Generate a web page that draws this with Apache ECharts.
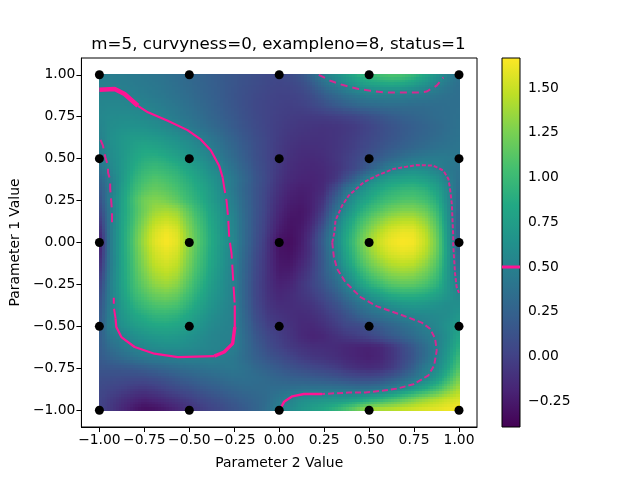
<!DOCTYPE html>
<html><head><meta charset="utf-8">
<script src="https://cdn.jsdelivr.net/npm/echarts@6/dist/echarts.min.js"></script>
<style>html,body{margin:0;padding:0;background:#fff}#c{width:640px;height:480px}</style></head>
<body><div id="c"></div>
<script>
const titleText = "m=5, curvyness=0, exampleno=8, status=1";
const xName = "Parameter 2 Value";
const yName = "Parameter 1 Value";
const axisTicks = [-1,-0.75,-0.5,-0.25,0,0.25,0.5,0.75,1];
const barTicks = [-0.25,0,0.25,0.5,0.75,1,1.25,1.5];
const barRange = [-0.394,1.668];
const contourLevel = 0.5;
const sampleXs = [-1,-0.5,0,0.5,1];
const sampleYs = [-1,-0.5,0,0.5,1];
const viridis = ["#440154","#482475","#414487","#355f8d","#2a788e","#21918c","#22a884","#44bf70","#7ad151","#bddf26","#fde725"];
// field values in hundredths, rows from y=1 down to y=-1, columns from x=-1 to x=1
const fieldStep = 0.0625;
const field = [
[47,47,46,44,42,40,37,33,30,26,22,18,15,12,9,6,5,8,15,30,50,62,76,90,100,106,110,108,98,85,68,52,38],
[49,49,48,46,44,42,39,35,31,27,23,19,15,11,8,5,3,4,8,18,34,46,58,68,76,80,82,80,73,63,52,43,36],
[52,52,51,49,47,44,41,37,33,28,24,19,14,10,6,3,1,1,3,9,20,29,38,44,49,49,49,49,46,44,40,37,35],
[54,55,55,54,52,49,45,41,36,31,26,20,15,10,5,2,0,-1,0,4,10,17,23,28,31,33,34,34,33,33,34,35,36],
[55,58,59,59,57,53,49,44,39,34,28,22,17,11,6,2,-1,-3,-4,-4,-3,-1,2,5,10,15,20,24,27,30,33,35,37],
[53,60,63,64,63,60,56,50,44,38,32,26,19,13,7,2,-2,-5,-7,-8,-9,-8,-6,-3,2,8,13,18,22,26,30,34,38],
[50,62,68,72,72,70,66,61,55,48,40,32,24,16,9,3,-3,-7,-9,-10,-10,-8,-5,-1,4,9,14,19,24,28,32,36,39],
[46,60,68,76,82,80,75,69,62,55,47,37,28,19,10,3,-4,-9,-12,-12,-11,-8,-4,1,7,13,19,24,29,33,37,39,40],
[44,58,68,80,88,90,86,78,70,62,53,42,32,21,11,3,-5,-11,-14,-15,-13,-8,-2,5,13,21,29,36,42,45,46,45,43],
[36,54,68,84,96,100,96,90,80,71,60,49,37,25,13,4,-6,-13,-16,-17,-15,-10,-2,8,22,36,49,56,60,58,50,44,39],
[26,47,68,90,104,110,106,98,88,78,67,55,42,29,15,4,-8,-15,-18,-19,-16,-8,10,30,52,66,74,78,80,75,66,50,37],
[18,44,72,96,112,118,114,106,94,84,72,57,42,27,14,2,-11,-19,-22,-20,-14,8,38,56,72,84,92,97,98,93,80,58,33],
[10,48,75,102,122,128,124,114,100,88,74,60,46,29,14,0,-14,-22,-24,-20,-8,22,50,70,84,96,104,109,110,104,90,60,30],
[2,44,76,100,122,136,140,134,114,96,79,64,49,30,14,-1,-17,-25,-27,-20,-1,34,60,82,100,112,122,128,128,120,102,65,27],
[-8,44,77,102,128,146,152,145,122,102,82,66,52,31,13,-3,-20,-28,-27,-16,8,45,72,96,115,130,141,146,146,134,112,68,24],
[-18,44,78,106,135,155,163,155,128,106,85,67,53,31,12,-5,-24,-30,-25,-10,20,52,80,106,128,145,156,161,160,146,120,72,21],
[-28,44,78,108,138,158,166,158,130,108,86,68,54,31,11,-8,-30,-32,-24,-5,25,54,84,112,136,152,162,166,164,150,124,74,20],
[-22,44,78,106,134,153,160,153,127,105,84,66,52,29,8,-9,-28,-30,-22,-6,22,50,80,107,130,146,156,160,158,145,122,76,26],
[-15,44,77,104,130,148,154,147,123,102,82,65,51,27,6,-10,-26,-27,-18,-3,20,46,74,99,120,134,144,148,146,134,114,74,33],
[-8,46,77,102,125,141,147,140,118,98,79,63,50,26,5,-10,-24,-23,-13,0,20,38,62,86,107,120,130,134,132,122,106,72,40],
[0,48,76,100,118,132,137,130,110,92,75,61,50,25,4,-10,-20,-18,-8,2,15,30,50,72,90,102,112,116,115,108,95,70,50],
[6,48,74,96,110,120,124,118,102,86,71,60,50,25,4,-9,-17,-14,-8,-2,8,20,36,52,68,78,88,92,92,88,80,68,56],
[12,48,70,88,100,108,110,106,92,79,67,57,50,26,5,-7,-13,-13,-11,-8,0,10,22,35,45,53,62,68,70,68,64,60,62],
[16,49,66,80,88,95,96,92,82,72,62,55,50,28,8,-4,-9,-12,-14,-12,-6,2,12,23,32,38,44,50,54,56,58,60,68],
[19,50,62,72,78,83,84,81,74,66,58,53,50,30,12,0,-5,-10,-15,-16,-11,-4,4,6,12,20,27,34,41,49,55,64,75],
[20,42,50,60,66,70,72,70,65,60,54,51,50,32,16,5,-2,-8,-15,-19,-17,-11,-6,-2,3,10,18,25,33,42,50,62,82],
[20,34,43,51,56,60,62,62,59,56,53,51,48,33,20,9,1,-5,-9,-12,-13,-14,-17,-19,-20,-17,-8,5,18,33,49,65,90],
[19,26,33,39,44,47,49,50,51,50,50,47,43,33,23,15,9,3,-3,-7,-9,-12,-16,-19,-21,-18,-9,3,16,33,50,70,100],
[15,16,17,19,22,26,30,33,36,38,40,41,42,37,30,24,18,13,9,5,2,-2,-8,-12,-14,-12,-5,8,24,45,56,78,110],
[10,9,8,7,7,10,14,19,23,27,30,33,36,36,34,31,27,24,22,20,18,15,11,8,7,10,17,27,40,53,70,95,125],
[6,3,0,-4,-6,-3,2,7,11,16,20,24,28,31,32,33,34,36,38,39,39,39,38,36,37,41,49,60,72,85,100,120,140],
[3,-3,-10,-16,-20,-17,-12,-7,-2,4,9,14,19,24,28,33,43,51,60,64,66,68,70,76,84,92,102,112,124,134,142,150,155],
[2,-6,-16,-25,-32,-30,-25,-18,-10,-4,2,7,13,19,26,36,48,58,68,76,84,95,110,126,140,146,148,152,155,158,160,163,165]
];
const contourThick = [[-1,0.91],[-0.915,0.915],[-0.86,0.885],[-0.786,0.815]];
const contourUpper = [[-0.786,0.815],[-0.73,0.776],[-0.62,0.726],[-0.51,0.67],[-0.435,0.613],[-0.38,0.548],[-0.334,0.458],[-0.315,0.389]];
const contourLeftBody = [[-0.315,0.389],[-0.306,0.329],[-0.293,0.25],[-0.284,0.15],[-0.278,0.03],[-0.265,-0.067],[-0.256,-0.226],[-0.247,-0.375]];
const contourBottom = [[-0.247,-0.375],[-0.247,-0.504]];
const contourCorner = [[-0.247,-0.504],[-0.259,-0.603],[-0.306,-0.653],[-0.361,-0.677]];
const contourFloor = [[-0.361,-0.677],[-0.564,-0.683],[-0.694,-0.663],[-0.804,-0.623],[-0.878,-0.564],[-0.906,-0.504],[-0.91,-0.454]];
const contourLeftLow = [[-0.91,-0.454],[-0.92,-0.385],[-0.92,-0.33]];
const contourLeftHigh = [[-0.93,0.12],[-0.93,0.19],[-0.94,0.32],[-0.94,0.37],[-0.952,0.418],[-0.952,0.458],[-0.967,0.508],[-0.98,0.577],[-1,0.627]];
const contourTop = [[0.22,1],[0.285,0.964],[0.35,0.94],[0.442,0.915],[0.507,0.905],[0.58,0.895],[0.655,0.895],[0.72,0.895],[0.784,0.895],[0.82,0.9],[0.876,0.935],[0.913,0.984]];
const contourRightUp = [[0.295,0],[0.307,0.061],[0.313,0.131],[0.35,0.22],[0.387,0.28],[0.47,0.359],[0.544,0.399],[0.636,0.439],[0.766,0.462],[0.858,0.458],[0.913,0.429],[0.941,0.379],[0.95,0.32],[0.96,0.23],[0.968,0.03],[0.968,-0.018],[0.978,-0.186],[0.987,-0.266],[1,-0.3]];
const contourRightDown = [[0.295,0],[0.304,-0.087],[0.322,-0.157],[0.368,-0.236],[0.452,-0.325],[0.544,-0.381],[0.673,-0.429],[0.793,-0.478],[0.839,-0.514],[0.867,-0.573],[0.876,-0.643],[0.862,-0.732],[0.83,-0.792],[0.747,-0.845],[0.655,-0.871],[0.58,-0.883],[0.479,-0.895],[0.387,-0.895],[0.239,-0.903]];
const contourTail = [[0.239,-0.903],[0.137,-0.903],[0.073,-0.917],[0.027,-0.95],[0.008,-0.988]];

const FONT = '"DejaVu Sans"';
const PINK = '#ff1493';
const fieldData = [];
field.forEach((row,r)=>row.forEach((v,c)=>fieldData.push([-1+c*fieldStep, 1-r*fieldStep, v/100, r, c])));
const samples = [];
sampleXs.forEach(x=>sampleYs.forEach(y=>samples.push([x,y])));
const fmt = v => v.toFixed(2).replace('-','\u2212');
function lineSeries(data,width,dash,opacity){
  return {type:'line',data,xAxisIndex:0,yAxisIndex:0,symbol:'none',silent:true,animation:false,clip:true,z:4,
    lineStyle:{color:PINK,width,type:dash||'solid',opacity:opacity||1,cap:'butt'}};
}
// Display shading only (like imshow with bilinear interpolation): each read value keeps its
// own cell; inside the cell the colour blends towards the neighbouring read values.
const SUB = [-0.375,-0.125,0.125,0.375];
const lastIdx = field.length-1;
const valueAt = (r,c)=>field[Math.min(lastIdx,Math.max(0,r))][Math.min(lastIdx,Math.max(0,c))]/100;
function shadeColor(v){
  const t = echarts.number.linearMap(v,barRange,[0,1],true);
  return echarts.color.lerp(t,viridis);
}
const fieldSeries = {
  type:'custom',data:fieldData,xAxisIndex:0,yAxisIndex:0,encode:{x:0,y:1},silent:true,animation:false,progressive:0,z:2,
  renderItem(params,api){
    const x=api.value(0),y=api.value(1),r=api.value(3),c=api.value(4);
    const children=[];
    SUB.forEach(dv=>SUB.forEach(du=>{
      const cx=x+du*fieldStep, cy=y-dv*fieldStep, q=fieldStep/8;
      if(cx<-1||cx>1||cy<-1||cy>1) return;
      const sc=du<0?-1:1, sr=dv<0?-1:1, au=Math.abs(du), av=Math.abs(dv);
      const v=(1-au)*(1-av)*valueAt(r,c)+au*(1-av)*valueAt(r,c+sc)+(1-au)*av*valueAt(r+sr,c)+au*av*valueAt(r+sr,c+sc);
      const a=api.coord([cx-q,cy+q]), b=api.coord([cx+q,cy-q]);
      const x0=Math.floor(a[0]), y0=Math.floor(a[1]);
      children.push({type:'rect',shape:{x:x0,y:y0,width:Math.ceil(b[0])-x0,height:Math.ceil(b[1])-y0},style:{fill:shadeColor(v)}});
    }));
    return {type:'group',children};
  }
};
const barSeries = {
  type:'custom',data:[[0,barRange[1],1,barRange[0]]],xAxisIndex:1,yAxisIndex:1,encode:{x:[0,2],y:[1,3]},silent:true,animation:false,z:2,
  renderItem(params,api){
    const a=api.coord([api.value(0),api.value(1)]);
    const b=api.coord([api.value(2),api.value(3)]);
    return {type:'rect',shape:{x:a[0],y:a[1],width:b[0]-a[0],height:b[1]-a[1]},
      style:{stroke:'#000',lineWidth:1,fill:{type:'linear',x:0,y:1,x2:0,y2:0,colorStops:viridis.map((c,i)=>({offset:i/(viridis.length-1),color:c}))}}};
  }
};
const option = {
  animation:false,
  backgroundColor:'#fff',
  title:{text:titleText,left:273.5,top:31,textAlign:'center',textStyle:{fontFamily:FONT,fontSize:16.67,fontWeight:'normal',color:'#000'}},
  grid:[
    {left:80,top:58,width:397,height:369,show:true,borderColor:'#000',borderWidth:1,backgroundColor:'#fff'},
    {left:502,top:58,width:18,height:369}
  ],
  xAxis:[
    {type:'value',gridIndex:0,min:-1.1,max:1.1,name:xName,nameLocation:'middle',nameGap:29,
     nameTextStyle:{fontFamily:FONT,fontSize:13.89,color:'#000'},splitLine:{show:false},
     axisLine:{show:true,onZero:false,lineStyle:{color:'#000'}},
     axisTick:{show:true,length:5,customValues:axisTicks,lineStyle:{color:'#000'}},
     axisLabel:{customValues:axisTicks,formatter:fmt,fontFamily:FONT,fontSize:13.89,color:'#000',margin:6}},
    {type:'value',gridIndex:1,min:0,max:1,show:false}
  ],
  yAxis:[
    {type:'value',gridIndex:0,min:-1.1,max:1.1,name:yName,nameLocation:'middle',nameGap:59,
     nameTextStyle:{fontFamily:FONT,fontSize:13.89,color:'#000'},splitLine:{show:false},
     axisLine:{show:true,onZero:false,lineStyle:{color:'#000'}},
     axisTick:{show:true,length:5,customValues:axisTicks,lineStyle:{color:'#000'}},
     axisLabel:{customValues:axisTicks,formatter:fmt,fontFamily:FONT,fontSize:13.89,color:'#000',margin:6}},
    {type:'value',gridIndex:1,position:'right',min:barRange[0],max:barRange[1],splitLine:{show:false},
     axisLine:{show:false},
     axisTick:{show:true,length:5,customValues:barTicks,lineStyle:{color:'#000'}},
     axisLabel:{customValues:barTicks,formatter:fmt,fontFamily:FONT,fontSize:13.89,color:'#000',margin:8}}
  ],
  series:[
    fieldSeries,
    lineSeries(contourThick,4.5),
    lineSeries(contourUpper,2.2),
    lineSeries(contourLeftBody,2,[16,6]),
    lineSeries(contourBottom,2.2),
    lineSeries(contourCorner,3.4),
    lineSeries(contourFloor,2.2),
    lineSeries(contourLeftLow,2,[10,5]),
    lineSeries(contourLeftHigh,2,[9,6],0.85),
    lineSeries(contourTop,2,[7,5],0.8),
    lineSeries(contourRightUp,2,[4,2],0.8),
    lineSeries(contourRightDown,2,[6,3],0.8),
    lineSeries(contourTail,2.4),
    {type:'scatter',data:samples,xAxisIndex:0,yAxisIndex:0,symbolSize:9,silent:true,animation:false,z:6,itemStyle:{color:'#000',opacity:1}},
    barSeries,
    {type:'line',data:[[0,contourLevel],[1,contourLevel]],xAxisIndex:1,yAxisIndex:1,symbol:'none',silent:true,animation:false,z:4,lineStyle:{color:PINK,width:3,cap:'butt'}}
  ]
};
const chart = echarts.init(document.getElementById('c'),null,{renderer:'canvas'});
chart.setOption(option);
</script></body></html>
